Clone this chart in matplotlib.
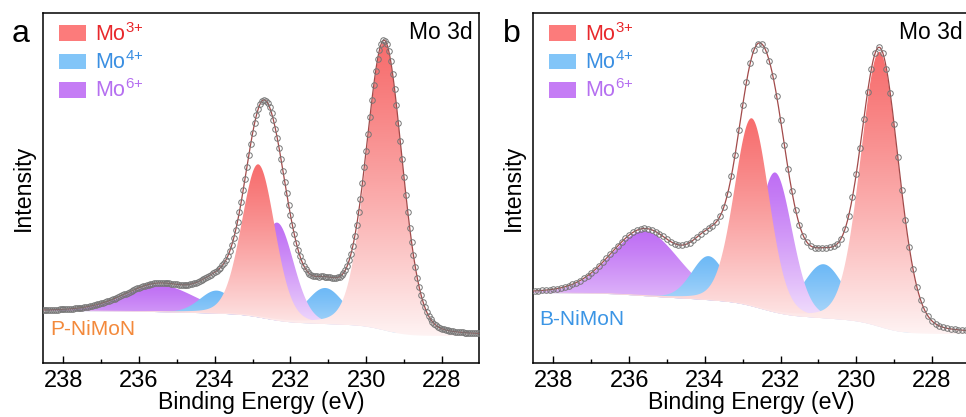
import numpy as np
import matplotlib
matplotlib.use("Agg")
import matplotlib.pyplot as plt
from matplotlib.colors import to_rgb
from matplotlib.patches import Patch, PathPatch

plt.rcParams['font.family'] = ['Liberation Sans', 'DejaVu Sans']
plt.rcParams['mathtext.fontset'] = 'custom'
plt.rcParams['mathtext.rm'] = 'Liberation Sans'
plt.rcParams['mathtext.it'] = 'Liberation Sans:italic'
plt.rcParams['mathtext.bf'] = 'Liberation Sans:bold'

# Mo 3d fit components, same order in both samples
states = ["Mo3+", "Mo3+", "Mo4+", "Mo4+", "Mo6+", "Mo6+"]

# P-NiMoN: peak centre (eV), height (a.u.), gaussian sigma (eV)
a_centers = [229.52, 232.85, 231.08, 233.95, 232.35, 235.45]
a_heights = [288, 153, 36, 23, 98, 27]
a_sigmas = [0.47, 0.44, 0.50, 0.45, 0.44, 0.92]
a_background = [27.0, 52]  # low BE end, high BE end

# B-NiMoN
b_centers = [229.38, 232.76, 230.86, 233.90, 232.14, 235.58]
b_heights = [275, 188, 54, 44, 140, 65]
b_sigmas = [0.50, 0.46, 0.55, 0.45, 0.45, 0.90]
b_background = [29, 70]

legend_labels = [r'Mo$^{\mathregular{3{+}}}$', r'Mo$^{\mathregular{4{+}}}$', r'Mo$^{\mathregular{6{+}}}$']

fill_colors = {"Mo3+": "#f76e6e", "Mo4+": "#6db9f6", "Mo6+": "#bf6ff4"}
patch_colors = {"Mo3+": "#fc7b7b", "Mo4+": "#82c5f8", "Mo6+": "#c57cf5"}
text_colors = {"Mo3+": "#e8282c", "Mo4+": "#3a8fe2", "Mo6+": "#b56ff0"}

# drawing order, bottom to top
draw_order = [5, 3, 2, 4, 1, 0]

LOR = 0.15  # lorentzian fraction of the pseudo-voigt


def pseudo_voigt(x, c, h, s):
    hwhm = s * np.sqrt(2 * np.log(2))
    g = np.exp(-(x - c) ** 2 / (2 * s ** 2))
    l = 1 / (1 + ((x - c) / hwhm) ** 2)
    return h * ((1 - LOR) * g + LOR * l)


def shirley(x, peaks, lo, hi):
    # x ascending, background rises toward high binding energy
    cum = np.concatenate([[0], np.cumsum((peaks[1:] + peaks[:-1]) / 2 * np.diff(x))])
    return lo + (hi - lo) * cum / cum[-1]


def gradient_fill(ax, x, y0, y1, color, z):
    poly = ax.fill_between(x, y0, y1, facecolor='none', edgecolor='none', zorder=z)
    height = (y1 - y0).max()
    mask = (y1 - y0) > 0.5
    bottom = y0[mask].min()
    top = y1.max()
    fade = 0.92 * (1 - np.exp(-height / 50))
    rgb = np.array(to_rgb(color))
    t = np.linspace(0, 1, 256)[:, None]
    w = fade * (1 - t) ** 1.2
    img = (rgb * (1 - w) + w)[:, None, :]
    im = ax.imshow(img, extent=[x.min(), x.max(), bottom, top], origin='lower',
                   aspect='auto', zorder=z, interpolation='bilinear')
    clip = PathPatch(poly.get_paths()[0], transform=ax.transData,
                     facecolor='none', edgecolor='none')
    ax.add_patch(clip)
    im.set_clip_path(clip)


def plot_panel(ax, centers, heights, sigmas, background, step, sample, sample_color, sample_pos):
    x = np.linspace(226.8, 238.8, 2400)
    comps = [pseudo_voigt(x, c, h, s) for c, h, s in zip(centers, heights, sigmas)]
    peaks = np.sum(comps, axis=0)
    bg = shirley(x, peaks, background[0], background[1])
    total = bg + peaks

    for z, i in enumerate(draw_order):
        gradient_fill(ax, x, bg, bg + comps[i], fill_colors[states[i]], 1 + z * 0.1)

    # measured points sit on the envelope
    xs = np.arange(227.0, 238.6, step)
    ys = np.interp(xs, x, total)
    ax.plot(x, total, color='#a24a4a', lw=0.9, zorder=4)
    ax.plot(xs, ys, 'o', mfc='none', mec='#767676', ms=4.0, mew=0.7, zorder=5)

    ax.set_xlim(238.54, 227.02)
    ax.set_ylim(0, 350)
    ax.set_yticks([])
    ax.set_xticks(range(228, 239, 2))
    ax.set_xticks(range(229, 239, 2), minor=True)
    ax.tick_params(axis='x', which='major', direction='in', length=5, width=1,
                   labelsize=17, pad=5, top=False)
    ax.tick_params(axis='x', which='minor', direction='in', length=3, width=1)
    for sp in ax.spines.values():
        sp.set_linewidth(1.1)

    ax.set_xlabel("Binding Energy (eV)", fontsize=16.7, labelpad=-1)
    ax.set_ylabel("Intensity", fontsize=16.7, labelpad=6)

    handles = [Patch(facecolor=patch_colors[s], edgecolor='none') for s in ["Mo3+", "Mo4+", "Mo6+"]]
    leg = ax.legend(handles, legend_labels, loc='upper left', bbox_to_anchor=(0.036, 0.972),
                    frameon=False, fontsize=15.5, handlelength=1.25, handleheight=0.75,
                    handletextpad=0.45, labelspacing=0.25, borderpad=0, borderaxespad=0)
    for t, s in zip(leg.get_texts(), ["Mo3+", "Mo4+", "Mo6+"]):
        t.set_color(text_colors[s])

    ax.text(0.986, 0.926, "Mo 3d", transform=ax.transAxes, ha='right', va='baseline', fontsize=16.5)
    ax.text(sample_pos[0], sample_pos[1], sample, color=sample_color,
            transform=ax.transAxes, va='baseline', fontsize=15)


fig = plt.figure(figsize=(9.66, 4.17), dpi=100)
ax_a = fig.add_axes([0.0445, 0.1295, 0.4513, 0.8393])
ax_b = fig.add_axes([0.5518, 0.1295, 0.4513, 0.8393])

plot_panel(ax_a, a_centers, a_heights, a_sigmas, a_background, 0.05,
           "P-NiMoN", "#f3893b", (0.016, 0.08))
plot_panel(ax_b, b_centers, b_heights, b_sigmas, b_background, 0.1,
           "B-NiMoN", "#3b95e5", (0.0145, 0.109))

fig.text(0.012, 0.899, "a", fontsize=23, va='baseline')
fig.text(0.521, 0.899, "b", fontsize=23, va='baseline')

fig.savefig("out.png", dpi=100)
